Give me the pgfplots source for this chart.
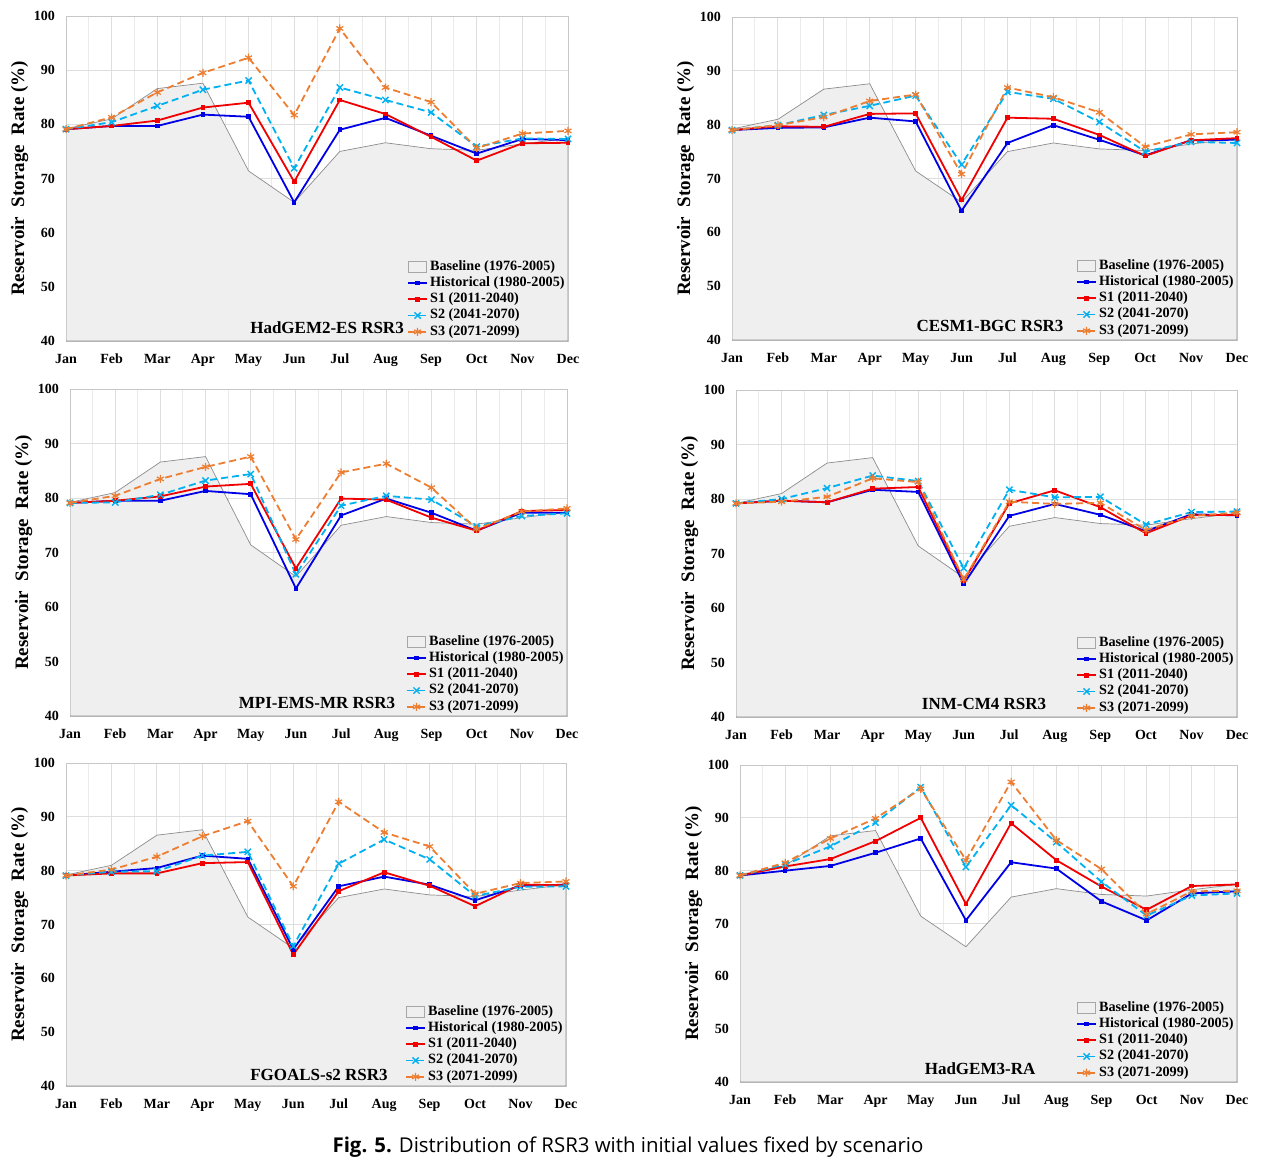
\documentclass[border=0pt]{standalone}
\usepackage{pgfplots}
\pgfplotsset{compat=1.18}
\usepackage{fontspec}
\setmainfont{Liberation Serif}
\newfontfamily\capfont{Open Sans}
\definecolor{cHist}{RGB}{0,0,230}
\definecolor{cS1}{RGB}{240,0,0}
\definecolor{cS2}{RGB}{0,176,240}
\definecolor{cS3}{RGB}{237,125,49}
\definecolor{cBase}{RGB}{239,239,239}

\pgfplotsset{
  rsr/.style={
    scale only axis,
    anchor=south west,
    xmin=0, xmax=11, ymin=40, ymax=100,
    xtick={0,...,11},
    xticklabels={Jan,Feb,Mar,Apr,May,Jun,Jul,Aug,Sep,Oct,Nov,Dec},
    ytick={40,50,...,100},
    minor x tick num=1,
    grid=both,
    major grid style={draw=black!13, line width=0.5pt},
    minor grid style={draw=black!8, line width=0.5pt},
    axis line style={draw=black!22, line width=0.5pt},
    major tick length=0pt, minor tick length=0pt,
    /pgf/number format/assume math mode=true,
    tick label style={font=\bfseries\fontsize{7}{8}\selectfont},
    xticklabel style={yshift=-3pt},
    yticklabel style={xshift=-2pt},
    ylabel={Reservoir\ \ Storage\ \ Rate (\%)},
    ylabel style={font=\bfseries\fontsize{9.5}{10}\selectfont, yshift=-4pt},
    legend style={draw=none, fill=none, at={(rel axis cs:1,-0.008)}, anchor=south east,
      font=\bfseries\fontsize{7.1}{7.5}\selectfont, inner sep=0.5pt,
      row sep=-2.3pt, legend cell align=left,
      nodes={inner xsep=1pt}},
    legend cell align=left,
    legend image code/.code={\draw[mark repeat=2,mark phase=2,#1] plot coordinates {(0cm,0cm) (0.17cm,0cm) (0.34cm,0cm)};},
  },
  base/.style={fill=cBase, draw=black!45, line width=0.35pt, area legend,
    legend image code/.code={\draw[fill=cBase, draw=black!35, line width=0.3pt] (0cm,-0.09cm) rectangle (0.33cm,0.1cm);}},
  hist/.style={color=cHist, line width=0.9pt, mark=square*, mark size=0.7pt},
  sone/.style={color=cS1, line width=0.9pt, mark=square*, mark size=0.75pt},
  stwo/.style={color=cS2, line width=0.9pt, dash pattern=on 3.5pt off 2pt, mark=x, mark size=2.2pt, mark options={solid, line width=0.7pt}},
  sthree/.style={color=cS3, line width=0.9pt, dash pattern=on 3.5pt off 2pt, mark=asterisk, mark size=2.0pt, mark options={solid, line width=0.6pt}},
}

\newcommand{\baseline}{\addplot[base] coordinates {(0,79.2)(1,81.0)(2,86.6)(3,87.6)(4,71.4)(5,65.6)(6,75.0)(7,76.6)(8,75.5)(9,75.2)(10,76.4)(11,77.4)} \closedcycle;}
\newcommand{\legendall}{\legend{Baseline (1976-2005),Historical (1980-2005),S1 (2011-2040),S2 (2041-2070),S3 (2071-2099)}}
\newcommand{\ttl}[3]{\node[font=\bfseries\fontsize{8.5}{9}\selectfont] at (rel axis cs:#1,#2) {#3};}

\begin{document}
\begin{tikzpicture}
\path[use as bounding box] (0,0) rectangle (633.5pt,-581.5pt);

% Panel 1
\begin{axis}[rsr, at={(33pt,-170.5pt)}, width=251pt, height=162.5pt]
\baseline
\addplot[hist] coordinates {(0,79.1)(1,79.7)(2,79.7)(3,81.8)(4,81.4)(5,65.6)(6,79.0)(7,81.2)(8,77.9)(9,74.6)(10,77.3)(11,77.1)};
\addplot[sone] coordinates {(0,79.1)(1,79.7)(2,80.7)(3,83.1)(4,84.0)(5,69.4)(6,84.5)(7,81.9)(8,77.7)(9,73.3)(10,76.5)(11,76.6)};
\addplot[stwo] coordinates {(0,79.1)(1,80.4)(2,83.4)(3,86.4)(4,88.1)(5,71.9)(6,86.8)(7,84.5)(8,82.2)(9,75.9)(10,77.4)(11,77.3)};
\addplot[sthree] coordinates {(0,79.1)(1,81.3)(2,85.9)(3,89.5)(4,92.3)(5,81.7)(6,97.7)(7,86.8)(8,84.1)(9,75.6)(10,78.3)(11,78.8)};
\legendall
\ttl{0.52}{0.04}{HadGEM2-ES RSR3}
\end{axis}

% Panel 2
\begin{axis}[rsr, at={(366pt,-170pt)}, width=252.5pt, height=161.5pt]
\baseline
\addplot[hist] coordinates {(0,79.0)(1,79.4)(2,79.5)(3,81.3)(4,80.6)(5,64.0)(6,76.6)(7,79.9)(8,77.2)(9,74.3)(10,77.1)(11,77.2)};
\addplot[sone] coordinates {(0,79.0)(1,79.7)(2,79.6)(3,82.0)(4,82.1)(5,66.0)(6,81.3)(7,81.1)(8,78.1)(9,74.2)(10,77.1)(11,77.5)};
\addplot[stwo] coordinates {(0,79.0)(1,79.9)(2,81.8)(3,83.5)(4,85.4)(5,72.6)(6,86.1)(7,84.8)(8,80.5)(9,75.0)(10,76.8)(11,76.6)};
\addplot[sthree] coordinates {(0,79.0)(1,79.9)(2,81.4)(3,84.4)(4,85.6)(5,70.8)(6,86.9)(7,85.1)(8,82.3)(9,75.9)(10,78.2)(11,78.6)};
\legendall
\ttl{0.511}{0.043}{CESM1-BGC RSR3}
\end{axis}

% Panel 3
\begin{axis}[rsr, at={(35pt,-358pt)}, width=248.5pt, height=163.5pt]
\baseline
\addplot[hist] coordinates {(0,79.1)(1,79.5)(2,79.5)(3,81.3)(4,80.7)(5,63.4)(6,76.8)(7,79.9)(8,77.3)(9,74.0)(10,77.3)(11,77.3)};
\addplot[sone] coordinates {(0,79.1)(1,79.5)(2,80.3)(3,82.1)(4,82.6)(5,67.1)(6,79.9)(7,79.7)(8,76.4)(9,74.0)(10,77.6)(11,77.8)};
\addplot[stwo] coordinates {(0,79.1)(1,79.2)(2,80.6)(3,83.2)(4,84.4)(5,66.0)(6,78.6)(7,80.4)(8,79.7)(9,74.8)(10,76.7)(11,77.2)};
\addplot[sthree] coordinates {(0,79.1)(1,80.4)(2,83.5)(3,85.7)(4,87.6)(5,72.4)(6,84.7)(7,86.3)(8,81.9)(9,74.3)(10,77.5)(11,78.1)};
\legendall
\ttl{0.497}{0.04}{MPI-EMS-MR RSR3}
\end{axis}

% Panel 4
\begin{axis}[rsr, at={(368pt,-358.5pt)}, width=250.5pt, height=163.5pt]
\baseline
\addplot[hist] coordinates {(0,79.2)(1,79.7)(2,79.4)(3,81.7)(4,81.3)(5,64.4)(6,76.9)(7,79.1)(8,77.1)(9,74.1)(10,77.2)(11,77.0)};
\addplot[sone] coordinates {(0,79.2)(1,79.7)(2,79.4)(3,81.9)(4,82.2)(5,65.0)(6,79.2)(7,81.6)(8,78.5)(9,73.7)(10,77.0)(11,77.1)};
\addplot[stwo] coordinates {(0,79.2)(1,80.0)(2,82.0)(3,84.3)(4,83.3)(5,67.3)(6,81.7)(7,80.3)(8,80.4)(9,75.3)(10,77.6)(11,77.7)};
\addplot[sthree] coordinates {(0,79.2)(1,79.5)(2,80.4)(3,83.8)(4,83.1)(5,65.2)(6,79.5)(7,79.1)(8,79.3)(9,74.3)(10,76.9)(11,77.5)};
\legendall
\ttl{0.495}{0.04}{INM-CM4 RSR3}
\end{axis}

% Panel 5
\begin{axis}[rsr, at={(33pt,-543pt)}, width=250pt, height=161.5pt]
\baseline
\addplot[hist] coordinates {(0,79.1)(1,79.8)(2,80.5)(3,82.8)(4,82.2)(5,65.4)(6,77.1)(7,78.9)(8,77.4)(9,74.5)(10,77.2)(11,77.4)};
\addplot[sone] coordinates {(0,79.1)(1,79.5)(2,79.5)(3,81.4)(4,81.6)(5,64.4)(6,76.2)(7,79.7)(8,77.2)(9,73.4)(10,77.4)(11,77.3)};
\addplot[stwo] coordinates {(0,79.1)(1,79.8)(2,79.9)(3,82.8)(4,83.5)(5,66.0)(6,81.3)(7,85.8)(8,82.1)(9,75.3)(10,77.0)(11,77.1)};
\addplot[sthree] coordinates {(0,79.1)(1,80.2)(2,82.6)(3,86.4)(4,89.2)(5,77.1)(6,92.8)(7,87.1)(8,84.5)(9,75.7)(10,77.7)(11,78.0)};
\legendall
\ttl{0.506}{0.034}{FGOALS-s2 RSR3}
\end{axis}

% Panel 6
\begin{axis}[rsr, at={(370pt,-541pt)}, width=248.5pt, height=158.5pt]
\baseline
\addplot[hist] coordinates {(0,79.1)(1,80.0)(2,80.9)(3,83.4)(4,86.1)(5,70.6)(6,81.6)(7,80.4)(8,74.2)(9,70.6)(10,75.7)(11,76.1)};
\addplot[sone] coordinates {(0,79.1)(1,80.8)(2,82.2)(3,85.6)(4,90.0)(5,73.7)(6,89.0)(7,82.0)(8,77.0)(9,72.6)(10,77.1)(11,77.4)};
\addplot[stwo] coordinates {(0,79.1)(1,81.2)(2,84.6)(3,89.1)(4,95.8)(5,80.7)(6,92.4)(7,85.4)(8,77.9)(9,71.5)(10,75.3)(11,75.7)};
\addplot[sthree] coordinates {(0,79.1)(1,81.5)(2,86.1)(3,89.9)(4,95.5)(5,82.0)(6,96.8)(7,85.8)(8,80.3)(9,71.8)(10,76.1)(11,76.2)};
\legendall
\ttl{0.483}{0.041}{HadGEM3-RA}
\end{axis}

\node[font=\capfont\fontsize{10.2}{12}\selectfont] at (314pt,-573.5pt) {\textbf{Fig. 5.} Distribution of RSR3 with initial values fixed by scenario};
\end{tikzpicture}
\end{document}
